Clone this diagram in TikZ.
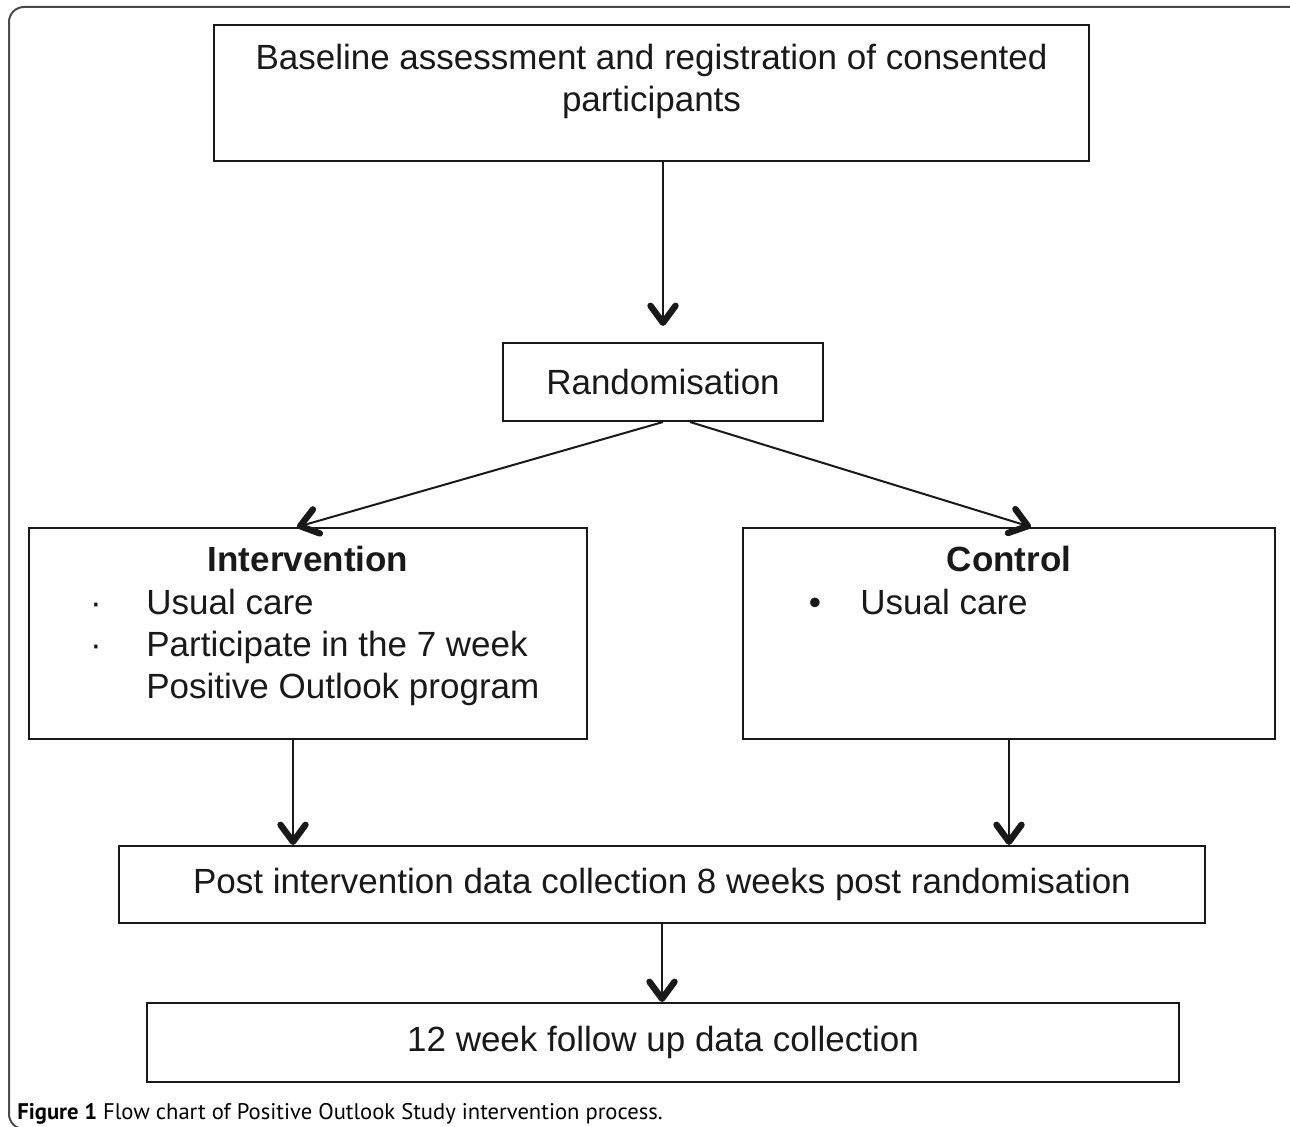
\documentclass[tikz,border=0pt]{standalone}
\usepackage{fontspec}
\setmainfont{Liberation Sans}
\newfontfamily\capfont{PT Sans}
\usetikzlibrary{arrows.meta}

\begin{document}
\begin{tikzpicture}[x=0.5pt,
            y=-0.5pt,
            box/.style={draw=black!90, line width=1pt, inner sep=0pt},
            txt/.style={font=\fontsize{17.5}{21}\selectfont, text=black!90},
            head/.style={font=\fontsize{17.5}{21}\selectfont\bfseries, text=black!90},
            flow/.style={-{Straight Barb[length=8.5pt,width=12.5pt,line width=3.2pt,round]},
                         line width=1pt, draw=black!90}]

        \useasboundingbox (0,0) rectangle (1290,1127);

        % page frame
        \draw[black!70, line width=1pt, rounded corners=7.5pt]
            (1300,7) -- (9,7) -- (9,1129) -- (80,1129);

        \node[box, minimum width=437.5pt, minimum height=68pt] (base) at (651.5,93) {};
        \node[txt, align=center] (basetxt) at (651.5,81)
            {Baseline assessment and registration of consented\\participants};

        \node[box, txt, minimum width=160pt, minimum height=39pt] (rand) at (663,382) {Randomisation};

        \node[box, minimum width=279pt, minimum height=105.5pt] (intv) at (308,633.5) {};
        \node[head, anchor=base]                   (intvhead) at (308,572) {Intervention};
        \node[txt, anchor=base]                    (dot1)     at (96,615)  {·};
        \node[txt, anchor=base]                    (dot2)     at (96,657)  {·};
        \node[txt, anchor=base west, inner sep=0pt] (item1)    at (146,615) {Usual care};
        \node[txt, anchor=base west, inner sep=0pt] (item2)    at (146,657) {Participate in the 7 week};
        \node[txt, anchor=base west, inner sep=0pt] (item3)    at (146,699) {Positive Outlook program};

        \node[box, minimum width=266pt, minimum height=105.5pt] (ctrl) at (1009,633.5) {};
        \node[head, anchor=base]                   (ctrlhead) at (1009,572) {Control};
        \node[txt, anchor=base]                    (dot3)     at (815,615)  {•};
        \node[txt, anchor=base west, inner sep=0pt] (item4)    at (860,615)  {Usual care};

        \node[box, txt, minimum width=543pt, minimum height=38.5pt] (post) at (662,884.5)
            {Post intervention data collection 8 weeks post randomisation};

        \node[box, txt, minimum width=516pt, minimum height=39.5pt] (foll) at (663,1042.5)
            {12 week follow up data collection};

        \node[anchor=base west, inner sep=0pt, font=\capfont\fontsize{11.3}{13}\selectfont] (cap) at (17,1119)
            {\textbf{Figure 1} Flow chart of Positive Outlook Study intervention process.};

        \draw[flow] (base.south -| rand.north) -- ([yshift=8pt]rand.north);
        \draw[flow] (rand.south) -- ([xshift=-5.5pt]intv.north);
        \draw[flow] ([xshift=13.5pt]rand.south) -- ([xshift=11pt]ctrl.north);
        \draw[flow] ([xshift=-7.5pt]intv.south) -- ([xshift=-7.5pt]intv.south |- post.north);
        \draw[flow] (ctrl.south) -- (ctrl.south |- post.north);
        \draw[flow] (post.south) -- (post.south |- foll.north);

    \end{tikzpicture}
\end{document}
